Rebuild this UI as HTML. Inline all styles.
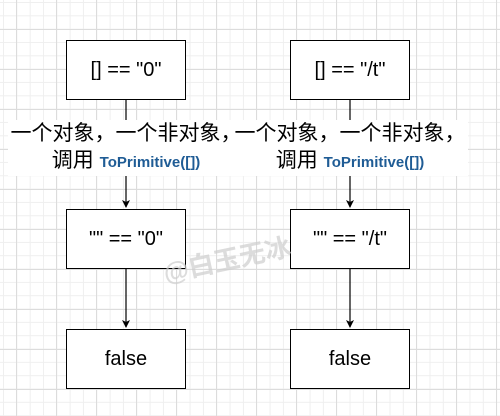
<!DOCTYPE html>
<html><head><meta charset="utf-8"><style>
html,body{margin:0;padding:0;}
body{width:500px;height:416px;position:relative;overflow:hidden;background:#fff;
background-image:
linear-gradient(to right,#dcdcdc 1px,transparent 1px),
linear-gradient(to bottom,#dcdcdc 1px,transparent 1px),
linear-gradient(to right,#efefef 1px,transparent 1px),
linear-gradient(to bottom,#efefef 1px,transparent 1px);
background-size:40px 40px,40px 40px,13.333px 13.333px,13.333px 13.333px;
background-position:16px 29px,16px 29px,3px 2px,3px 2px;
font-family:"Liberation Sans","Noto Sans CJK SC",sans-serif;}
.box{position:absolute;width:118px;height:58px;border:1.5px solid #000;background:#fff;display:flex;align-items:center;justify-content:center;font-size:20px;color:#000;}
.lbl{position:absolute;background:#fff;text-align:center;color:#000;font-size:21px;line-height:27px;}
.lbl span{color:#1f5c95;font-size:15px;font-weight:600;}
.wm{position:absolute;left:162px;top:240px;font-size:26px;color:rgba(205,205,205,0.7);transform:rotate(-12deg);font-weight:bold;}
</style></head><body>
<svg width="500" height="416" style="position:absolute;left:0;top:0">
<defs><marker id="a" markerWidth="8" markerHeight="8" refX="7" refY="4" orient="auto" markerUnits="userSpaceOnUse"><path d="M0,0 L8,4 L0,8 L2,4 z" fill="#000"/></marker></defs>
<line x1="126" y1="100" x2="126" y2="207" stroke="#000" stroke-width="1.2" marker-end="url(#a)"/>
<line x1="350" y1="100" x2="350" y2="207" stroke="#000" stroke-width="1.2" marker-end="url(#a)"/>
<line x1="126" y1="269" x2="126" y2="327" stroke="#000" stroke-width="1.2" marker-end="url(#a)"/>
<line x1="350" y1="269" x2="350" y2="327" stroke="#000" stroke-width="1.2" marker-end="url(#a)"/>
</svg>
<div class="box" style="left:66px;top:40px">[] == "0"</div>
<div class="box" style="left:290px;top:40px">[] == "/t"</div>
<div class="lbl" style="left:8px;top:120px;width:236px">一个对象，一个非对象，<br>调用 <span>ToPrimitive([])</span></div>
<div class="lbl" style="left:232px;top:120px;width:236px">一个对象，一个非对象，<br>调用 <span>ToPrimitive([])</span></div>
<div class="box" style="left:66px;top:209px">"" == "0"</div>
<div class="box" style="left:290px;top:209px">"" == "/t"</div>
<div class="box" style="left:66px;top:329px">false</div>
<div class="box" style="left:290px;top:329px">false</div>
<div class="wm">@白玉无冰</div>
</body></html>
